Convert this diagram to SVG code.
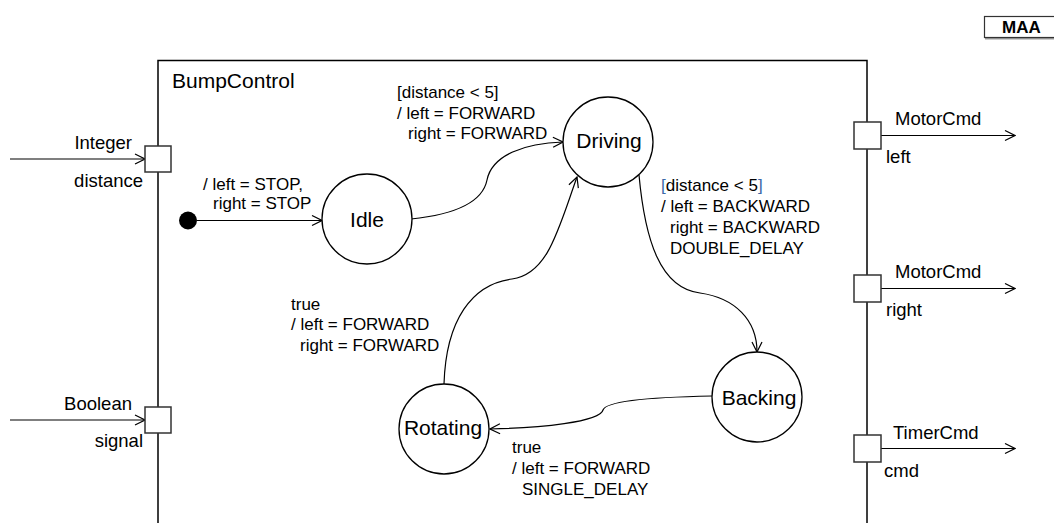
<svg xmlns="http://www.w3.org/2000/svg" width="1054" height="523" viewBox="0 0 1054 523">
<defs>
<marker id="open" markerWidth="12" markerHeight="12" refX="11" refY="6" orient="auto" markerUnits="userSpaceOnUse">
<path d="M1,1 L11,6 L1,11" fill="none" stroke="#000" stroke-width="1.2"/>
</marker>
</defs>
<style>
.line{fill:none;stroke:#000;stroke-width:1.2}
.state{fill:#fff;stroke:#000;stroke-width:1.3}
.port{fill:#fff;stroke:#333;stroke-width:1.5}
.t{font-family:"Liberation Sans",Arial,sans-serif;fill:#000}
.lbl{font-size:17px}
.pl{font-size:18.5px}
.sn{font-size:21px;text-anchor:middle}
.br{fill:#3b69a8}
</style>
<rect width="1054" height="523" fill="#fff"/>
<g id="maa">
<line x1="985" y1="38.5" x2="1054" y2="38.5" stroke="#999" stroke-width="2"/>
<rect x="984.5" y="16.5" width="80" height="21" fill="#fff" stroke="#333" stroke-width="1.2"/>
<text class="t" x="1002" y="33" font-size="17" font-weight="bold">MAA</text>
</g>
<g id="frame">
<rect x="158" y="60.5" width="709" height="480" fill="none" stroke="#000" stroke-width="1.5"/>
<text class="t" x="172" y="88" font-size="21">BumpControl</text>
</g>
<g id="connectors">
<path class="line" d="M10,159 L145,159" marker-end="url(#open)"/>
<path class="line" d="M10,420 L145,420" marker-end="url(#open)"/>
<path class="line" d="M881,135.5 L1015,135.5" marker-end="url(#open)"/>
<path class="line" d="M881,288.5 L1015,288.5" marker-end="url(#open)"/>
<path class="line" d="M881,448.5 L1015,448.5" marker-end="url(#open)"/>
<path class="line" d="M197,220.5 L322,220.5" marker-end="url(#open)"/>
<path class="line" d="M411,219 C450,215 482,205 487,180 C492,155 525,143 563,142" marker-end="url(#open)"/>
<path class="line" d="M639,175 C645,240 660,288 700,293 C735,298 757,320 757,352" marker-end="url(#open)"/>
<path class="line" d="M712,396 C660,397 606,400 603,410 C600,422 540,428 490,429" marker-end="url(#open)"/>
<path class="line" d="M444,384 C446,320 472,284 512,279 C548,274 558,230 577,177" marker-end="url(#open)"/>
</g>
<g id="port-distance">
<rect class="port" x="145" y="146" width="26" height="26"/>
<text class="t pl" x="132" y="149" text-anchor="end">Integer</text>
<text class="t pl" x="143" y="187" text-anchor="end">distance</text>
</g>
<g id="port-signal">
<rect class="port" x="145" y="407" width="26" height="26"/>
<text class="t pl" x="132" y="410" text-anchor="end">Boolean</text>
<text class="t pl" x="143" y="447" text-anchor="end">signal</text>
</g>
<g id="port-left">
<rect class="port" x="854" y="122" width="27" height="27"/>
<text class="t pl" x="895" y="125">MotorCmd</text>
<text class="t pl" x="886" y="163">left</text>
</g>
<g id="port-right">
<rect class="port" x="854" y="275" width="27" height="27"/>
<text class="t pl" x="895" y="278">MotorCmd</text>
<text class="t pl" x="886" y="316">right</text>
</g>
<g id="port-cmd">
<rect class="port" x="854" y="435" width="27" height="27"/>
<text class="t pl" x="893" y="439">TimerCmd</text>
<text class="t pl" x="884" y="477">cmd</text>
</g>
<g id="initial">
<circle cx="188" cy="220.5" r="9" fill="#000"/>
</g>
<g id="idle">
<circle class="state" cx="367" cy="219" r="45"/>
<text class="t sn" x="367" y="227">Idle</text>
</g>
<g id="driving">
<circle class="state" cx="608" cy="142" r="45"/>
<text class="t sn" x="609" y="148">Driving</text>
</g>
<g id="backing">
<circle class="state" cx="757" cy="397" r="45"/>
<text class="t sn" x="759" y="405">Backing</text>
</g>
<g id="rotating">
<circle class="state" cx="444" cy="429" r="45"/>
<text class="t sn" x="443" y="435">Rotating</text>
</g>
<g id="labels">
<text class="t lbl" x="203" y="190">/ left = STOP,</text>
<text class="t lbl" x="213" y="208.5">right = STOP</text>
<text class="t lbl" x="397" y="98">[distance &lt; 5]</text>
<text class="t lbl" x="397" y="118.5">/ left = FORWARD</text>
<text class="t lbl" x="408" y="139">right = FORWARD</text>
<text class="t lbl" x="661" y="191"><tspan class="br">[</tspan>distance &lt; 5<tspan class="br">]</tspan></text>
<text class="t lbl" x="661" y="212">/ left = BACKWARD</text>
<text class="t lbl" x="670" y="233">right = BACKWARD</text>
<text class="t lbl" x="670" y="253.5">DOUBLE_DELAY</text>
<text class="t lbl" x="291" y="310">true</text>
<text class="t lbl" x="291" y="330">/ left = FORWARD</text>
<text class="t lbl" x="300" y="351">right = FORWARD</text>
<text class="t lbl" x="512" y="453">true</text>
<text class="t lbl" x="512" y="473.5">/ left = FORWARD</text>
<text class="t lbl" x="522" y="495">SINGLE_DELAY</text>
</g>
</svg>
